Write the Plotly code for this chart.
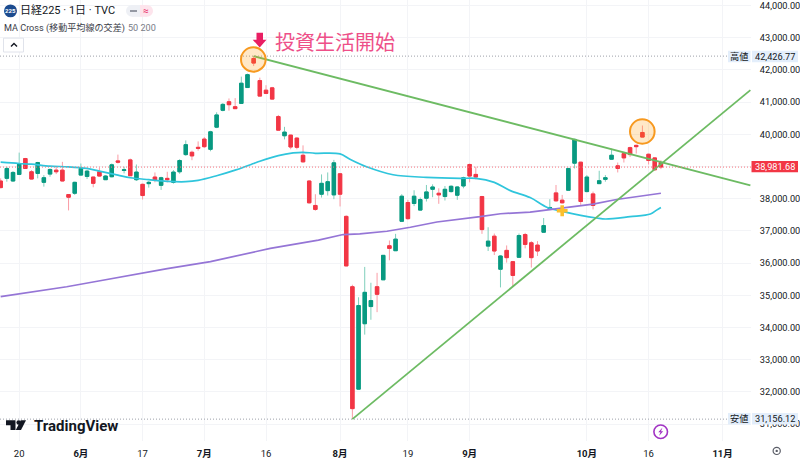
import plotly.graph_objects as go

opens = [38549,38631,38549,38754,39246,38836,38785,38508,38764,38887,38887,38128,38169,38733,38692,38672,38836,38590,38682,39174,
 38877,39205,38590,38446,38467,38672,38415,38631,38508,38836,39369,39441,39595,39851,39533,40221,40744,41010,40856,40959,
 41451,42354,41667,41369,41441,40549,39954,39974,39882,39349,38549,37790,38139,38251,38118,38774,37451,35267,32087,34118,
 34651,35267,35482,36539,36385,37298,37882,37851,37646,38015,38292,38169,38067,38221,38108,38395,39062,38754,38067,36528,
 36836,35810,36395,36046,36180,36887,36631,36559,36959,37687,38180,37954,38262,39103,39133,38221,38149,38467,38600,39226,
 39021,39400,39585,39656,40056,39380,39267,39123]
highs = [38631,38990,38856,39431,39267,38887,39144,38733,38939,38990,39144,38140,38528,39092,38897,38680,38959,38733,39092,39369,
 38990,39246,39062,38467,38549,38815,38682,38836,38887,39226,39810,39492,39779,39913,40108,40682,40969,41113,41123,41790,
 41882,42426.77,41759,41523,41472,40600,40231,39985,39903,39656,38570,38139,38754,38815,39205,38795,37482,35328,34939,35882,
 35390,35698,36250,36703,36908,38139,37964,38262,38036,38426,38446,38323,38395,38415,38395,38682,39092,38990,38087,37113,
 36918,36251,36549,36067,36918,36939,36682,36682,37400,37985,38426,38118,38950,39860,39145,38733,38221,38867,38733,39554,
 39123,39451,39615,39677,40272,39400,39287,39195]
lows = [38323,38528,38528,38733,38928,38600,38631,38374,38682,38764,38540,37636,38118,38713,38610,38354,38682,38580,38662,39092,
 38785,38705,38549,37974,38344,38508,38272,38508,38467,38774,39328,39195,39492,39574,39472,40190,40713,40733,40785,40949,
 41441,42118,41175,41246,41072,40118,39841,39533,39533,39123,37851,37626,38036,38098,37985,37759,35905,31156.12,32080,33780,
 34241,34477,35475,36087,36375,37277,37349,37769,37626,37913,38046,37841,37944,38190,37964,38323,38508,38600,36908,36375,
 36251,35246,36016,35267,36170,36457,35862,36221,36939,37646,37913,37851,38250,38939,37810,38200,37667,38460,38528,39205,
 38815,39123,39297,39400,39905,39062,38877,38918]
closes = [38344,38939,38815,39092,38939,38610,39123,38651,38908,38836,38549,38046,38508,38939,38856,38477,38703,38703,39051,39133,
 38897,38713,38826,38098,38508,38569,38651,38590,38826,39185,39677,39328,39564,39615,40077,40600,40928,40918,40795,41585,
 41851,42210,41185,41267,41092,40128,40067,39605,39595,39144,37872,37667,38477,38528,39113,38139,35913,31482,34682,35093,
 34836,35031,36241,36457,36744,38077,37380,38077,37974,38210,38364,38118,38292,38385,38364,38651,38703,38672,37041,36682,
 36375,36221,36169,35616,36857,36580,36169,36375,37164,37728,37933,37872,38939,39841,37913,38672,37790,38559,38651,39349,
 38939,39267,39369,39615,39913,39185,38897,38981.68]

ma50_x = [0,3,5,8,11,14,16,19,21,24,27,30,32,35,38,41,42,45,47.4,49,51,55,56.6,59.3,63.6,69,74.5,77,80,82.6,85.8,88.6,91,94,96.6,98,102,105.3,106.3,107]
ma50_y = [39133,39092,39072,39010,38990,38939,38856,38733,38651,38590,38539,38528,38569,38713,38887,39092,39164,39338,39421,39441,39410,39390,39226,38990,38744,38662,38631,38631,38508,38251,38036,37728,37605,37482,37400,37369,37441,37523,37646,37728]
ma200_x = [0,5.3,10.7,16.1,21.5,27,34,37.7,42,43.7,51.5,55.5,58.2,62.6,66.4,70.7,77.7,81,85.8,89,91,96,99.8,107]
ma200_y = [34959,35103,35267,35452,35646,35831,36046,36200,36395,36457,36713,36887,36908,36990,37113,37277,37441,37533,37585,37667,37708,37831,37974,38169]

trend_down_x, trend_down_y = [41, 121.5], [42426.77, 38415]
trend_up_x, trend_up_y = [57, 121.5], [31156.12, 41369]
cross_x, cross_y = [91], [37626]

high_value, low_value, last_value = 42426.77, 31156.12, 38981.68
x_tick_pos = [3,13,23,33,43,55,66,76,95,105,117]
x_tick_text = ["20","<b>6月</b>","17","<b>7月</b>","16","<b>8月</b>","19","<b>9月</b>","<b>10月</b>","16","<b>11月</b>"]
y_ticks = list(range(31000, 45000, 1000))
y_tick_text = ["" if v == 39000 else f"{v:,.2f}" for v in y_ticks]

FONT = 'Roboto, "Noto Sans CJK JP", sans-serif'
W, H, PW, PH = 800, 459, 751, 445
idx = list(range(len(opens)))
def X(p): return p / PW
def Y(p): return 1 - p / PH

RED, GREEN = "#f23645", "#089981"
fig = go.Figure()
def line(x, y, color, width=1.7, shape="linear"):
    fig.add_trace(go.Scatter(x=x, y=y, mode="lines", line=dict(color=color, width=width, shape=shape), hoverinfo="skip", showlegend=False))

fig.add_trace(go.Candlestick(x=idx, open=opens, high=highs, low=lows, close=closes, whiskerwidth=0,
    increasing=dict(line=dict(color="#7fcfbc", width=1), fillcolor=GREEN),
    decreasing=dict(line=dict(color="#fa9ca5", width=1), fillcolor=RED), hoverinfo="skip", showlegend=False))
body_hi = [max(a, b) for a, b in zip(opens, closes)]
body_lo = [min(a, b) for a, b in zip(opens, closes)]
fig.add_trace(go.Candlestick(x=idx, open=opens, high=body_hi, low=body_lo, close=closes, whiskerwidth=0,
    increasing=dict(line=dict(color=GREEN, width=1), fillcolor=GREEN),
    decreasing=dict(line=dict(color=RED, width=1), fillcolor=RED), hoverinfo="skip", showlegend=False))
line(ma50_x, ma50_y, "#2fc5dc", shape="spline")
line(ma200_x, ma200_y, "#9575d6")
line(trend_down_x, trend_down_y, "#6dbb63", 1.8)
line(trend_up_x, trend_up_y, "#6dbb63", 1.8)
fig.add_trace(go.Scatter(x=cross_x, y=cross_y, mode="markers", marker=dict(symbol="cross", size=9, color="#fbc02d", line=dict(width=0)), hoverinfo="skip", showlegend=False))

shapes = []
def hl(y, x1, color):
    shapes.append(dict(type="line", xref="paper", yref="y", x0=0, x1=X(x1), y0=y, y1=y, line=dict(color=color, width=1, dash="1px,2px")))
hl(high_value, 728, "#9da0a9")
hl(low_value, 728, "#9da0a9")
hl(last_value, PW, "#f6727d")

def rect(x0, y0, x1, y1, fill, lc=None, lw=0, kind="rect"):
    shapes.append(dict(type=kind, xref="paper", yref="paper", x0=X(x0), x1=X(x1), y0=Y(y0), y1=Y(y1), fillcolor=fill,
                       line=dict(color=lc or fill, width=lw), layer="above"))
def circ(cx, cy, r, fill, lc=None, lw=0):
    rect(cx - r, cy - r, cx + r, cy + r, fill, lc, lw, "circle")
def path(pts, fill=None, lc=None, lw=0):
    d = "M" + " L".join(f"{X(a):.5f},{Y(b):.5f}" for a, b in pts)
    d += " Z" if fill else ""
    shapes.append(dict(type="path", xref="paper", yref="paper", path=d, fillcolor=fill or "rgba(0,0,0,0)",
                       line=dict(color=lc or fill, width=lw), layer="above"))

# highlight circles
circ(253.3, 60, 12.3, "rgba(255,152,0,0.22)", "#f7991f", 2)
circ(642.3, 132.7, 12.3, "rgba(255,152,0,0.22)", "#f7991f", 2)
# arrow
path([(256.5,33),(263,33),(263,40),(266.5,40),(259.7,48),(252.7,40),(256.5,40)], "#e91e63")
# header pills and logo
circ(10.5, 11, 6.5, "#1b4b8f")
circ(132, 11, 6, "#eef0f5"); rect(132, 5, 140, 17, "#eef0f5")
rect(140, 5, 147, 17, "#fde4ec"); circ(147, 11, 6, "#fde4ec")
rect(130, 10.2, 137, 12, "#8a8e99")
# collapse button
rect(3.5, 38.5, 23.5, 52.5, "#ffffff", "#e0e3eb", 1)
path([(11,47),(14,44),(17,47)], None, "#131722", 1.4)
# TradingView mark
path([(6,424),(15.5,424),(15.5,434),(10.5,434),(10.5,429),(6,429)], "#131722")
circ(18.7, 426.3, 2.3, "#131722")
path([(26,424),(21,434),(15.8,434),(20.8,424)], "#131722")
# bolt icon
circ(660.7, 435.7, 6.8, "rgba(0,0,0,0)", "#a233c4", 1.6)
path([(662.5,431.5),(658.3,436.2),(660.5,436.2),(659,440),(663.2,435.2),(661,435.2)], "#a233c4")
# settings icon
circ(776.7, 455, 3.6, "rgba(0,0,0,0)", "#5b5e68", 1.2)
circ(776.7, 455, 1.2, "#5b5e68")

ann = []
def text(x, y, s, size, color="#131722", anchor="left", **kw):
    ann.append(dict(xref="paper", yref="paper", x=X(x), y=Y(y), text=s, showarrow=False, xanchor=anchor, yanchor="middle",
                    font=dict(family=FONT, size=size, color=color), borderpad=0, **kw))
text(10.5, 11, "<b>225</b>", 6, "#ffffff", "center")
text(18.5, 10.5, "日経225 · 1日 · TVC", 11)
text(3, 28.5, "MA Cross (移動平均線の交差)", 9.1, "#3a3d47")
text(126.5, 28.5, "50 200", 9.1, "#787b86")
text(146, 11, "≈", 10, "#e91e63", "center")
text(274, 43, "投資生活開始", 20, "#ee4f88")
text(32.5, 430, "<b>TradingView</b>", 15)
# value tags
for val_y, label, val in [(57, "高値", "42,426.77"), (422.5, "安値", "31,156.12")]:
    rect(728, val_y - 5.8, 750.5, val_y + 5.8, "#e3eefb")
    rect(752, val_y - 5.8, 798, val_y + 5.8, "#e3eefb")
    text(739.3, val_y, label, 9.2, "#131722", "center")
    text(775, val_y, val, 9.2, "#131722", "center")
rect(751.5, 162.5, 798, 173.7, RED)
text(774.8, 168, "38,981.68", 9.2, "#ffffff", "center")

fig.update_layout(width=W, height=H, margin=dict(l=0, r=W - PW, t=0, b=H - PH), paper_bgcolor="white", plot_bgcolor="white",
    showlegend=False, shapes=shapes, annotations=ann, font=dict(family=FONT, color="#131722"), boxmode="overlay", boxgap=0.2,
    xaxis=dict(range=[-0.109, 121.6], tickmode="array", tickvals=x_tick_pos, ticktext=x_tick_text, showgrid=True,
               gridcolor="#f3f4f7", gridwidth=1, zeroline=False, showline=False, ticks="outside", ticklen=4,
               tickcolor="rgba(0,0,0,0)", tickfont=dict(size=9.5, family=FONT, color="#131722"), rangeslider=dict(visible=False)),
    yaxis=dict(range=[30477, 44169], side="right", tickmode="array", tickvals=y_ticks, ticktext=y_tick_text,
               showgrid=True, gridcolor="#f3f4f7", gridwidth=1, zeroline=False, showline=False, ticks="outside", ticklen=6,
               ticklabeloverflow="allow", tickcolor="rgba(0,0,0,0)", tickfont=dict(size=9.2, family=FONT, color="#131722")))
fig.write_html("out.html", config=dict(displayModeBar=False), post_script="document.documentElement.style.margin='0';document.body.style.margin='0';document.body.style.overflow='hidden';")
